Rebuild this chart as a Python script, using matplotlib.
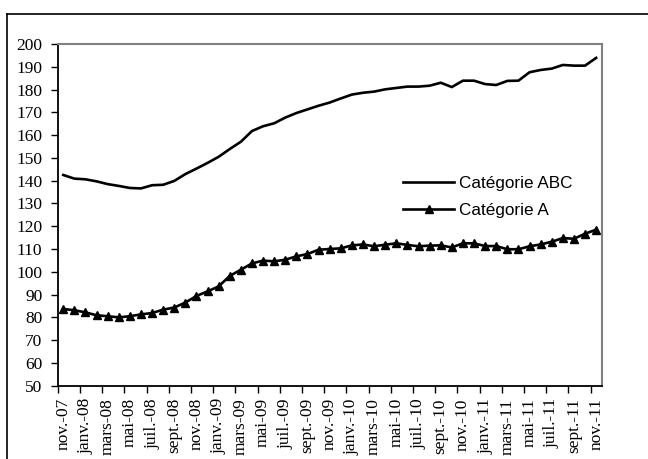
import matplotlib
matplotlib.use("Agg")
import matplotlib.pyplot as plt
from matplotlib.lines import Line2D

months = ["nov.-07", "déc.-07", "janv.-08", "févr.-08", "mars-08", "avr.-08", "mai-08", "juin-08",
          "juil.-08", "août-08", "sept.-08", "oct.-08", "nov.-08", "déc.-08", "janv.-09", "févr.-09",
          "mars-09", "avr.-09", "mai-09", "juin-09", "juil.-09", "août-09", "sept.-09", "oct.-09",
          "nov.-09", "déc.-09", "janv.-10", "févr.-10", "mars-10", "avr.-10", "mai-10", "juin-10",
          "juil.-10", "août-10", "sept.-10", "oct.-10", "nov.-10", "déc.-10", "janv.-11", "févr.-11",
          "mars-11", "avr.-11", "mai-11", "juin-11", "juil.-11", "août-11", "sept.-11", "oct.-11",
          "nov.-11"]

cat_abc = [142.5, 140.9, 140.6, 139.7, 138.5, 137.7, 136.8, 136.6, 138.0, 138.2,
           139.9, 142.9, 145.3, 147.8, 150.5, 153.9, 157.1, 161.8, 163.9, 165.2,
           167.7, 169.7, 171.3, 172.9, 174.3, 176.1, 177.8, 178.6, 179.1, 180.1,
           180.7, 181.3, 181.3, 181.7, 183.0, 181.1, 183.9, 183.9, 182.4, 182.0,
           183.8, 183.9, 187.6, 188.6, 189.2, 190.8, 190.5, 190.5, 193.9]

cat_a = [83.7, 83.1, 82.2, 80.9, 80.5, 80.0, 80.5, 81.3, 81.9, 83.4,
         84.3, 86.5, 89.4, 91.4, 93.6, 98.2, 100.9, 103.7, 104.9, 104.6,
         105.3, 106.8, 107.8, 109.7, 110.0, 110.3, 111.6, 112.0, 111.2, 111.9,
         112.5, 111.8, 111.2, 111.5, 111.6, 110.7, 112.5, 112.5, 111.3, 111.3,
         109.9, 109.9, 111.2, 112.0, 113.2, 114.8, 114.5, 116.7, 118.5]

y_ticks = list(range(50, 201, 10))

W, H = 648, 459
fig = plt.figure(figsize=(W / 100, H / 100), dpi=100)
left, right, top, bottom = 57.7, 601.7, 44, 385.7
ax = fig.add_axes([left / W, 1 - bottom / H, (right - left) / W, (bottom - top) / H])

x = list(range(len(months)))
ax.plot(x, cat_abc, color="black", lw=1.9, label="Catégorie ABC")
ax.plot(x, cat_a, color="black", lw=1.9, marker="^", markersize=5.5, label="Catégorie A")

ax.set_xlim(-0.5, len(months) - 0.5)
ax.set_ylim(50, 200)
ax.set_yticks(y_ticks)
ax.set_yticklabels([str(v) for v in y_ticks], family="Liberation Serif", fontsize=12.5)

# ticks at category boundaries every 2 months, labels at centers
ax.set_xticks([i - 0.5 for i in range(0, len(months), 2)])
ax.set_xticklabels([])
ax.set_xticks(x[::2], minor=True)
ax.set_xticklabels(months[::2], minor=True, rotation=90, family="Liberation Serif", fontsize=12.5)
ax.tick_params(axis="x", which="minor", length=0, pad=9)
ax.tick_params(axis="x", which="major", length=5, width=1, direction="out", color="black")
ax.tick_params(axis="y", length=5, width=1, direction="out", pad=6)

for s in ["top", "right"]:
    ax.spines[s].set_color("#808080")
    ax.spines[s].set_linewidth(1.5)
for s in ["left", "bottom"]:
    ax.spines[s].set_color("black")
    ax.spines[s].set_linewidth(1.3)

leg = ax.legend(loc="upper left", bbox_to_anchor=((403) / W, 1 - 176 / H),
                bbox_transform=fig.transFigure, frameon=False,
                prop={"family": "Liberation Sans", "size": 12.3}, handlelength=3.0,
                handletextpad=0.25, labelspacing=0.68, borderpad=0, borderaxespad=0)

# outer border (left and top)
fig.add_artist(Line2D([7 / W, 7 / W], [0, 1 - 14 / H], transform=fig.transFigure, color="black", lw=1.2))
fig.add_artist(Line2D([7 / W, 1], [1 - 14 / H, 1 - 14 / H], transform=fig.transFigure, color="black", lw=1.2))

fig.savefig("out.png", dpi=100)
